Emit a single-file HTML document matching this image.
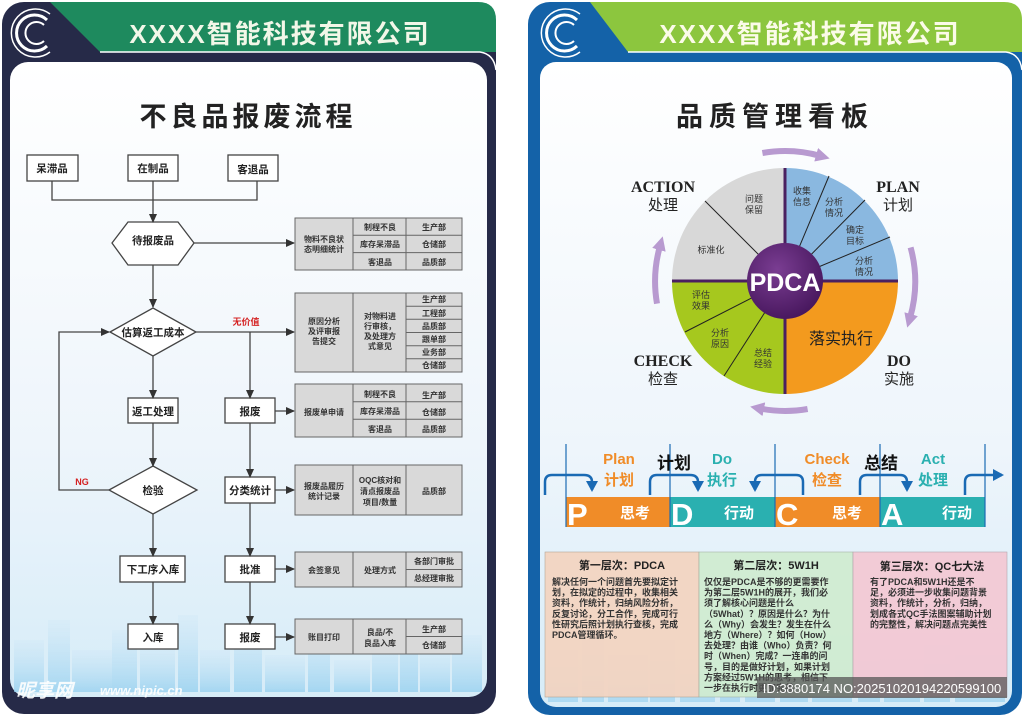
<!DOCTYPE html>
<html><head><meta charset="utf-8"><style>
html,body{margin:0;padding:0;background:#fff;}
svg{display:block;}
text{font-family:"Liberation Sans","Noto Sans CJK SC",sans-serif;}
text.serif{font-family:"Liberation Serif",serif;}
</style></head><body>
<svg width="1024" height="717" viewBox="0 0 1024 717" xmlns="http://www.w3.org/2000/svg">
<defs>
<linearGradient id="gl" x1="0" y1="0" x2="0" y2="1"><stop offset="0" stop-color="#ffffff"/><stop offset="0.6" stop-color="#eef5fb"/><stop offset="1" stop-color="#d6ecf8"/></linearGradient>
<linearGradient id="sky" x1="0" y1="0" x2="0" y2="1"><stop offset="0" stop-color="#cde6f6" stop-opacity="0.4"/><stop offset="1" stop-color="#8fcdee"/></linearGradient>
<radialGradient id="pc" cx="0.4" cy="0.35" r="0.7"><stop offset="0" stop-color="#7a3d92"/><stop offset="1" stop-color="#46165c"/></radialGradient>
<marker id="ma" markerWidth="16" markerHeight="16" refX="4" refY="8" orient="auto" markerUnits="userSpaceOnUse"><path d="M0,1 L14,8 L0,15 Z" fill="#b89ad0"/></marker>
<marker id="ab" markerWidth="10" markerHeight="10" refX="8" refY="5" orient="auto" markerUnits="userSpaceOnUse"><path d="M0,1 L9,5 L0,9 Z" fill="#333"/></marker>
<marker id="bb" markerWidth="12" markerHeight="12" refX="9" refY="6" orient="auto" markerUnits="userSpaceOnUse"><path d="M0,0 L11,6 L0,12 Z" fill="#1a6ab4"/></marker>
</defs>

<!-- LEFT PANEL -->
<rect x="2" y="2" width="494" height="712" rx="22" fill="#262a48"/>
<path d="M50,2 L478,2 Q496,2 496,20 L496,52 L100,52 Z" fill="#1e8a5e"/>
<path d="M100,52 L480,52 Q494,54 496,70" fill="none" stroke="#fff" stroke-width="1.5"/>
<rect x="10" y="62" width="477" height="635" rx="18" fill="url(#gl)"/>
<g fill="url(#sky)" opacity="0.7">
<rect x="14" y="640" width="30" height="52"/><rect x="48" y="620" width="22" height="72"/><rect x="72" y="650" width="40" height="42"/><rect x="112" y="630" width="25" height="62"/><rect x="140" y="645" width="35" height="47"/><rect x="178" y="615" width="20" height="77"/><rect x="200" y="650" width="30" height="42"/><rect x="234" y="625" width="28" height="67"/><rect x="265" y="655" width="40" height="37"/><rect x="308" y="628" width="22" height="64"/><rect x="334" y="660" width="36" height="32"/><rect x="372" y="640" width="26" height="52"/><rect x="400" y="620" width="18" height="72"/><rect x="420" y="650" width="30" height="42"/><rect x="452" y="635" width="30" height="57"/>
</g>
<g fill="none" stroke="#fff">
<path d="M47,20 A18,18 0 1 0 47,46" stroke-width="3"/>
<path d="M50,14 A24,24 0 1 0 50,52" stroke-width="1.5"/>
<path d="M44,25 A11,11 0 1 0 44,41" stroke-width="2"/>
</g>
<text x="280" y="43" font-size="26" font-weight="bold" fill="#f2f7e8" text-anchor="middle" letter-spacing="2">XXXX智能科技有限公司</text>
<text x="248" y="126" font-size="27" font-weight="bold" fill="#222" text-anchor="middle" letter-spacing="4">不良品报废流程</text>

<g stroke="#444" stroke-width="1.3" fill="#fff">
<rect x="27" y="155" width="51" height="26"/><rect x="128" y="155" width="50" height="26"/><rect x="228" y="155" width="50" height="26"/>
<polygon points="112,243 128,222 178,222 194,243 178,265 128,265"/>
<polygon points="110,332 153,308 196,332 153,356"/>
<rect x="128" y="398" width="50" height="25"/><rect x="225" y="398" width="50" height="25"/>
<polygon points="109,490 153,466 197,490 153,514"/>
<rect x="225" y="477" width="50" height="26"/>
<rect x="120" y="556" width="65" height="26"/><rect x="225" y="556" width="50" height="26"/>
<rect x="128" y="624" width="50" height="25"/><rect x="225" y="624" width="50" height="25"/>
</g>
<g stroke="#444" stroke-width="1.3" fill="none">
<path d="M52,181 V200 H257 V181"/>
<path d="M153,181 V222" marker-end="url(#ab)"/>
<path d="M194,243 H294" marker-end="url(#ab)"/>
<path d="M153,265 V307" marker-end="url(#ab)"/>
<path d="M196,332 H294" marker-end="url(#ab)"/>
<path d="M250,332 V398" marker-end="url(#ab)"/>
<path d="M153,356 V398" marker-end="url(#ab)"/>
<path d="M109,490 H59 V332 H109" marker-end="url(#ab)"/>
<path d="M153,423 V466" marker-end="url(#ab)"/>
<path d="M153,514 V556" marker-end="url(#ab)"/>
<path d="M153,582 V624" marker-end="url(#ab)"/>
<path d="M250,423 V477" marker-end="url(#ab)"/>
<path d="M250,503 V556" marker-end="url(#ab)"/>
<path d="M250,582 V624" marker-end="url(#ab)"/>
<path d="M275,411 H294" marker-end="url(#ab)"/>
<path d="M275,490 H294" marker-end="url(#ab)"/>
<path d="M275,569 H294" marker-end="url(#ab)"/>
<path d="M275,637 H294" marker-end="url(#ab)"/>
</g>
<g font-size="10.5" font-weight="bold" fill="#222" text-anchor="middle">
<text x="52" y="172">呆滞品</text><text x="153" y="172">在制品</text><text x="253" y="173">客退品</text>
<text x="153" y="244">待报废品</text><text x="153" y="336">估算返工成本</text>
<text x="153" y="415">返工处理</text><text x="250" y="415">报废</text>
<text x="153" y="494">检验</text><text x="250" y="494">分类统计</text>
<text x="153" y="573">下工序入库</text><text x="250" y="573">批准</text>
<text x="153" y="641">入库</text><text x="250" y="641">报废</text>
</g>
<text x="246" y="325" font-size="9" font-weight="bold" fill="#d42020" text-anchor="middle">无价值</text>
<text x="82" y="485" font-size="9" font-weight="bold" fill="#d42020" text-anchor="middle">NG</text>

<g fill="#d9d9d9" stroke="#666" stroke-width="1">
<rect x="295" y="218" width="167" height="52"/><line x1="353" y1="218" x2="353" y2="270"/><line x1="406" y1="218" x2="406" y2="270"/><line x1="353" y1="235.3" x2="462" y2="235.3"/><line x1="353" y1="252.6" x2="462" y2="252.6"/>
<rect x="295" y="293" width="167" height="79"/><line x1="353" y1="293" x2="353" y2="372"/><line x1="406" y1="293" x2="406" y2="372"/><line x1="406" y1="306.2" x2="462" y2="306.2"/><line x1="406" y1="319.3" x2="462" y2="319.3"/><line x1="406" y1="332.5" x2="462" y2="332.5"/><line x1="406" y1="345.7" x2="462" y2="345.7"/><line x1="406" y1="358.8" x2="462" y2="358.8"/>
<rect x="295" y="384" width="167" height="53"/><line x1="353" y1="384" x2="353" y2="437"/><line x1="406" y1="384" x2="406" y2="437"/><line x1="353" y1="401.7" x2="462" y2="401.7"/><line x1="353" y1="419.3" x2="462" y2="419.3"/>
<rect x="295" y="465" width="167" height="50"/><line x1="353" y1="465" x2="353" y2="515"/><line x1="406" y1="465" x2="406" y2="515"/>
<rect x="295" y="552" width="167" height="35"/><line x1="353" y1="552" x2="353" y2="587"/><line x1="406" y1="552" x2="406" y2="587"/><line x1="406" y1="569.5" x2="462" y2="569.5"/>
<rect x="295" y="619" width="167" height="35"/><line x1="353" y1="619" x2="353" y2="654"/><line x1="406" y1="619" x2="406" y2="654"/><line x1="406" y1="636.5" x2="462" y2="636.5"/>
</g>
<g font-size="8" font-weight="bold" fill="#333" text-anchor="middle">
<text x="324" y="242">物料不良状</text><text x="324" y="252">态明细统计</text>
<text x="380" y="230">制程不良</text><text x="380" y="247">库存呆滞品</text><text x="380" y="265">客退品</text>
<text x="434" y="230">生产部</text><text x="434" y="247">仓储部</text><text x="434" y="265">品质部</text>
<text x="324" y="324">原因分析</text><text x="324" y="334">及评审报</text><text x="324" y="344">告提交</text>
<text x="380" y="319">对物料进</text><text x="380" y="329">行审核，</text><text x="380" y="339">及处理方</text><text x="380" y="349">式意见</text>
<text x="434" y="302">生产部</text><text x="434" y="316">工程部</text><text x="434" y="329">品质部</text><text x="434" y="342">跟单部</text><text x="434" y="355">业务部</text><text x="434" y="368">仓储部</text>
<text x="324" y="415">报废单申请</text>
<text x="380" y="397">制程不良</text><text x="380" y="414">库存呆滞品</text><text x="380" y="432">客退品</text>
<text x="434" y="398">生产部</text><text x="434" y="415">仓储部</text><text x="434" y="432">品质部</text>
<text x="324" y="489">报废品履历</text><text x="324" y="499">统计记录</text>
<text x="380" y="483">OQC核对和</text><text x="380" y="494">清点报废品</text><text x="380" y="505">项目/数量</text>
<text x="434" y="494">品质部</text>
<text x="324" y="573">会签意见</text><text x="380" y="573">处理方式</text>
<text x="434" y="564">各部门审批</text><text x="434" y="581">总经理审批</text>
<text x="324" y="640">账目打印</text><text x="380" y="635">良品/不</text><text x="380" y="646">良品入库</text>
<text x="434" y="632">生产部</text><text x="434" y="648">仓储部</text>
</g>
<text x="16" y="697" font-size="19" font-weight="bold" font-style="italic" fill="#fff" opacity="0.9">昵享网</text>
<text x="100" y="695" font-size="13" font-weight="bold" font-style="italic" fill="#fff" opacity="0.9">www.nipic.cn</text>

<!-- RIGHT PANEL -->
<rect x="528" y="2" width="494" height="713" rx="22" fill="#1462a8"/>
<path d="M590,2 L1004,2 Q1022,2 1022,20 L1022,52 L628,52 Z" fill="#8cc63e"/>
<path d="M628,52 L1006,52 Q1020,54 1022,70" fill="none" stroke="#fff" stroke-width="1.5"/>
<rect x="540" y="62" width="472" height="645" rx="16" fill="url(#gl)"/>
<g fill="url(#sky)" opacity="0.6">
<rect x="548" y="650" width="30" height="52"/><rect x="582" y="630" width="22" height="72"/><rect x="608" y="655" width="40" height="47"/><rect x="650" y="640" width="25" height="62"/><rect x="680" y="660" width="35" height="42"/><rect x="720" y="640" width="20" height="62"/><rect x="745" y="655" width="30" height="47"/><rect x="780" y="645" width="28" height="57"/><rect x="812" y="660" width="40" height="42"/><rect x="858" y="640" width="22" height="62"/><rect x="884" y="660" width="36" height="42"/><rect x="924" y="645" width="26" height="57"/><rect x="955" y="655" width="50" height="47"/>
</g>
<g fill="none" stroke="#fff">
<path d="M577,20 A18,18 0 1 0 577,46" stroke-width="3"/>
<path d="M580,14 A24,24 0 1 0 580,52" stroke-width="1.5"/>
<path d="M574,25 A11,11 0 1 0 574,41" stroke-width="2"/>
</g>
<text x="810" y="43" font-size="26" font-weight="bold" fill="#fbfbe8" text-anchor="middle" letter-spacing="2">XXXX智能科技有限公司</text>
<text x="775" y="126" font-size="27" font-weight="bold" fill="#222" text-anchor="middle" letter-spacing="6">品质管理看板</text>

<path d="M785,281 L785,168 A113,113 0 0 1 898,281 Z" fill="#8ab8e0"/>
<path d="M785,281 L898,281 A113,113 0 0 1 785,394 Z" fill="#f39a1e"/>
<path d="M785,281 L785,394 A113,113 0 0 1 672,281 Z" fill="#a6c81e"/>
<path d="M785,281 L672,281 A113,113 0 0 1 785,168 Z" fill="#d8d8d8"/>
<g stroke="#222" stroke-width="1">
<line x1="785" y1="281" x2="829" y2="176"/><line x1="785" y1="281" x2="865" y2="200"/><line x1="785" y1="281" x2="890" y2="237"/>
<line x1="785" y1="281" x2="685" y2="332"/><line x1="785" y1="281" x2="724" y2="376"/><line x1="785" y1="281" x2="705" y2="201"/>
</g>
<g stroke="#4a2060" stroke-width="3"><line x1="672" y1="281" x2="898" y2="281"/><line x1="785" y1="168" x2="785" y2="394"/></g>
<circle cx="785" cy="281" r="38" fill="url(#pc)"/>
<text x="785" y="291" font-size="25" font-weight="bold" fill="#fff" text-anchor="middle">PDCA</text>
<g font-size="9" fill="#333" text-anchor="middle">
<text x="802" y="194">收集</text><text x="802" y="205">信息</text>
<text x="834" y="205">分析</text><text x="834" y="216">情况</text>
<text x="855" y="233">确定</text><text x="855" y="244">目标</text>
<text x="864" y="264">分析</text><text x="864" y="275">情况</text>
<text x="754" y="202">问题</text><text x="754" y="213">保留</text>
<text x="711" y="253">标准化</text>
<text x="701" y="298">评估</text><text x="701" y="309">效果</text>
<text x="720" y="336">分析</text><text x="720" y="347">原因</text>
<text x="763" y="356">总结</text><text x="763" y="367">经验</text>
</g>
<text x="841" y="344" font-size="16" fill="#222" text-anchor="middle">落实执行</text>
<g fill="none" stroke="#b89ad0" stroke-width="6">
<path d="M762.4,153 A130,130 0 0 1 820,155.8" marker-end="url(#ma)"/>
<path d="M910.6,247.4 A130,130 0 0 1 910,318" marker-end="url(#ma)"/>
<path d="M807.6,409 A130,130 0 0 1 760,408.5" marker-end="url(#ma)"/>
<path d="M657,303.6 A130,130 0 0 1 660,246" marker-end="url(#ma)"/>
</g>
<g font-weight="bold" fill="#222" text-anchor="middle" font-size="16">
<text class="serif" x="663" y="192">ACTION</text>
<text class="serif" x="898" y="192">PLAN</text>
<text class="serif" x="663" y="366">CHECK</text>
<text class="serif" x="899" y="366">DO</text>
</g>
<g font-size="15" fill="#222" text-anchor="middle">
<text x="663" y="210">处理</text><text x="898" y="210">计划</text><text x="663" y="384">检查</text><text x="899" y="384">实施</text>
</g>

<rect x="566" y="497" width="104" height="30" fill="#f08c28"/>
<rect x="670" y="497" width="105" height="30" fill="#2ab0b0"/>
<rect x="775" y="497" width="105" height="30" fill="#f08c28"/>
<rect x="880" y="497" width="105" height="30" fill="#2ab0b0"/>
<g stroke="#1a6ab4" stroke-width="1.2">
<line x1="566" y1="444" x2="566" y2="527"/><line x1="670" y1="444" x2="670" y2="527"/><line x1="775" y1="444" x2="775" y2="527"/><line x1="880" y1="444" x2="880" y2="527"/><line x1="985" y1="444" x2="985" y2="527"/>
</g>
<g fill="none" stroke="#1a6ab4" stroke-width="2.5">
<path d="M545,495 V482 Q545,475 552,475 H584 Q592,475 592,482 V490" marker-end="url(#bb)"/>
<path d="M650,495 V482 Q650,475 657,475 H690 Q698,475 698,482 V490" marker-end="url(#bb)"/>
<path d="M803,495 V482 Q803,475 796,475 H762 Q755,475 755,482 V490" marker-end="url(#bb)"/>
<path d="M860,495 V482 Q860,475 867,475 H900 Q907,475 907,482 V490" marker-end="url(#bb)"/>
<path d="M965,495 V482 Q965,475 972,475 H1002" marker-end="url(#bb)"/>
</g>
<g font-weight="bold" fill="#fff">
<text x="567" y="525" font-size="31">P</text><text x="671" y="525" font-size="31">D</text><text x="776" y="525" font-size="31">C</text><text x="881" y="525" font-size="31">A</text>
<text x="620" y="518" font-size="15">思考</text><text x="724" y="518" font-size="15">行动</text><text x="832" y="518" font-size="15">思考</text><text x="942" y="518" font-size="15">行动</text>
</g>
<g font-weight="bold" text-anchor="middle" font-size="15">
<text x="619" y="464" fill="#f08c28">Plan</text><text x="619" y="485" fill="#f08c28">计划</text>
<text x="674" y="469" fill="#111" font-size="17">计划</text>
<text x="722" y="464" fill="#2ab0b0">Do</text><text x="722" y="485" fill="#2ab0b0">执行</text>
<text x="827" y="464" fill="#f08c28">Check</text><text x="827" y="485" fill="#f08c28">检查</text>
<text x="881" y="469" fill="#111" font-size="17">总结</text>
<text x="933" y="464" fill="#2ab0b0">Act</text><text x="933" y="485" fill="#2ab0b0">处理</text>
</g>

<rect x="545" y="552" width="154" height="145" fill="#f4d4c0" opacity="0.92" stroke="#b0a090" stroke-width="0.6"/>
<rect x="699" y="552" width="154" height="145" fill="#d0ecd0" opacity="0.92" stroke="#a0b0a0" stroke-width="0.6"/>
<rect x="853" y="552" width="154" height="145" fill="#f4c8d4" opacity="0.92" stroke="#b0a0a8" stroke-width="0.6"/>
<g font-size="11" font-weight="bold" fill="#222" text-anchor="middle">
<text x="622" y="569">第一层次：PDCA</text><text x="776" y="569">第二层次：5W1H</text><text x="932" y="570">第三层次：QC七大法</text>
</g>
<g font-size="9" font-weight="bold" fill="#333">
<text x="552" y="585">解决任何一个问题首先要拟定计</text>
<text x="552" y="595.6">划，在拟定的过程中，收集相关</text>
<text x="552" y="606.2">资料，作统计，归纳风险分析，</text>
<text x="552" y="616.8">反复讨论，分工合作，完成可行</text>
<text x="552" y="627.4">性研究后照计划执行查核，完成</text>
<text x="552" y="638">PDCA管理循环。</text>
<text x="704" y="585">仅仅是PDCA是不够的更需要作</text>
<text x="704" y="595.6">为第二层5W1H的展开，我们必</text>
<text x="704" y="606.2">须了解核心问题是什么</text>
<text x="704" y="616.8">（5What）？原因是什么？为什</text>
<text x="704" y="627.4">么（Why）会发生？发生在什么</text>
<text x="704" y="638">地方（Where）？如何（How）</text>
<text x="704" y="648.6">去处理？由谁（Who）负责？何</text>
<text x="704" y="659.2">时（When）完成？一连串的问</text>
<text x="704" y="669.8">号，目的是做好计划，如果计划</text>
<text x="704" y="680.4">方案经过5W1H的思考，相信下</text>
<text x="704" y="691">一步在执行时更加完善</text>
<text x="870" y="585">有了PDCA和5W1H还是不</text>
<text x="870" y="595.6">足，必须进一步收集问题背景</text>
<text x="870" y="606.2">资料，作统计，分析，归纳，</text>
<text x="870" y="616.8">划成各式QC手法图案辅助计划</text>
<text x="870" y="627.4">的完整性，解决问题点完美性</text>
</g>
<rect x="757" y="677" width="250" height="21" fill="#555" opacity="0.75"/>
<text x="882" y="693" font-size="13" fill="#fff" text-anchor="middle">ID:3880174 NO:20251020194220599100</text>
</svg>
</body></html>
